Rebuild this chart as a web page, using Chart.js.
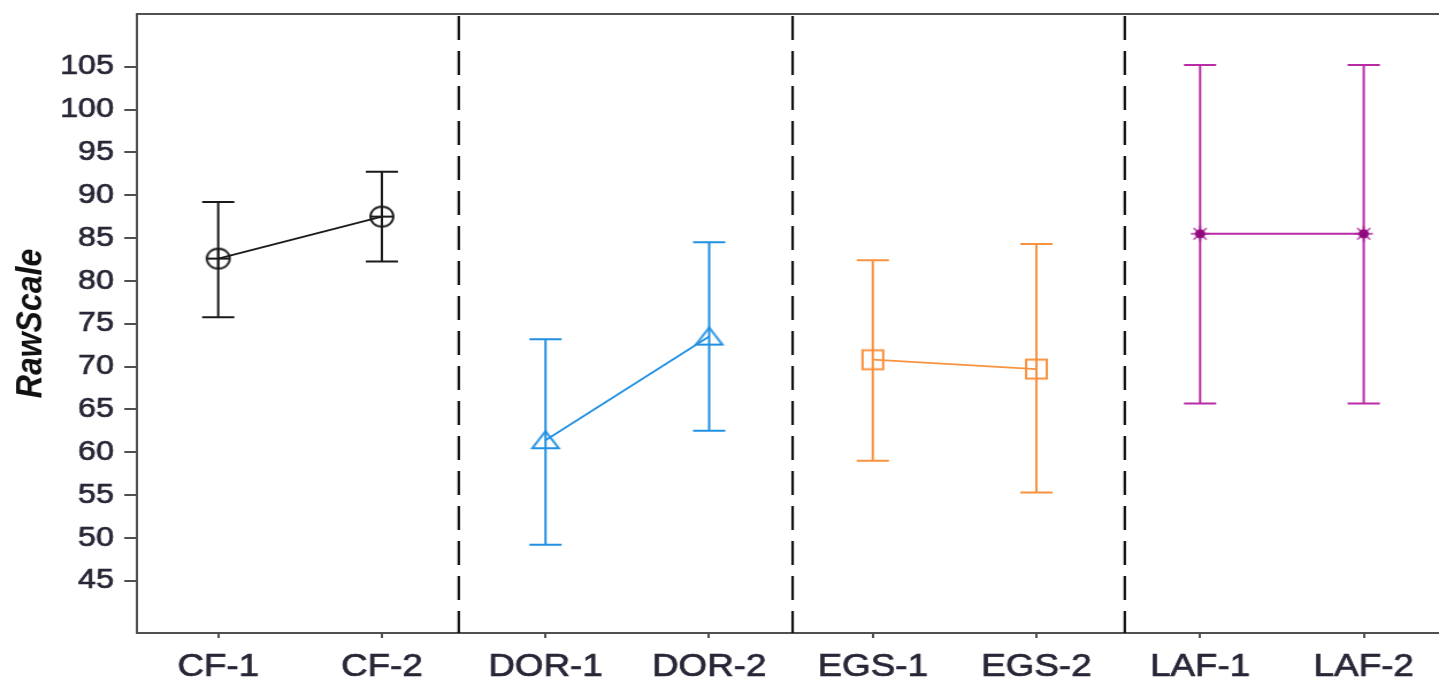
<!DOCTYPE html>
<html>
<head>
<meta charset="utf-8">
<title>RawScale</title>
<script src="https://cdn.jsdelivr.net/npm/chart.js@4.4.1/dist/chart.umd.min.js"></script>
<style>
  html, body { margin: 0; padding: 0; background: #fff; overflow: hidden; }
  /* the reference is stretched sideways, so the canvas buffer is narrower than its box */
  #chart { display: block; width: 1439px; height: 681px; }
</style>
</head>
<body>
<canvas id="chart" width="1251" height="681" style="width:1439px;height:681px;"></canvas>
<script>
// --- data ---
const categories = ['CF-1', 'CF-2', 'DOR-1', 'DOR-2', 'EGS-1', 'EGS-2', 'LAF-1', 'LAF-2'];
const groups = ['CF', 'DOR', 'EGS', 'LAF'];
const means = [82.6, 87.5, 61.4, 73.5, 70.8, 69.7, 85.5, 85.5];
const upper = [89.2, 92.75, 73.2, 84.5, 82.4, 84.3, 105.2, 105.2];
const lower = [75.75, 82.25, 49.2, 62.5, 59.0, 55.3, 65.7, 65.7];
const yTicks = [45, 50, 55, 60, 65, 70, 75, 80, 85, 90, 95, 100, 105];
const dividers = [1.47, 3.51, 5.54];

// --- styles ---
const groupColors = ['#1a1a1a', '#2190e2', '#f7923f', '#b92aa6'];
const textColor = '#262636';
const axisColor = '#505050';

// kleine canvases als marker
function makeMarker(kind, color) {
    const c = document.createElement('canvas');
    c.width = 30; c.height = 30;
    const g = c.getContext('2d');
    const m = 15;
    g.strokeStyle = color; g.fillStyle = color; g.lineWidth = 1.8;
    if (kind === 'circlePlus') {
        g.beginPath(); g.arc(m, m, 10, 0, Math.PI * 2); g.stroke();
        g.beginPath(); g.moveTo(m - 10, m); g.lineTo(m + 10, m); g.moveTo(m, m - 10); g.lineTo(m, m + 10); g.stroke();
    } else if (kind === 'triangle') {
        g.lineWidth = 2;
        g.beginPath(); g.moveTo(m - 11.5, m + 8); g.lineTo(m + 11.5, m + 8); g.lineTo(m, m - 9); g.closePath(); g.stroke();
    } else if (kind === 'square') {
        g.lineWidth = 2;
        g.strokeRect(m - 9, m - 9.5, 18, 19);
    } else if (kind === 'star') {
        g.lineWidth = 1.4;
        g.beginPath();
        for (let k = 0; k < 8; k++) {
            const a = k * Math.PI / 4;
            g.moveTo(m, m); g.lineTo(m + Math.cos(a) * 8, m + Math.sin(a) * 8);
        }
        g.stroke();
        g.fillStyle = '#8f0a7c';
        g.beginPath(); g.arc(m, m, 4.5, 0, Math.PI * 2); g.fill();
    }
    return c;
}
const markerKinds = ['circlePlus', 'triangle', 'square', 'star'];

const datasets = groups.map((name, gi) => ({
    label: name,
    data: [0, 1].map(k => ({ x: gi * 2 + k, y: means[gi * 2 + k] })),
    showLine: true,
    borderColor: groupColors[gi],
    backgroundColor: groupColors[gi],
    borderWidth: 1.8,
    pointStyle: makeMarker(markerKinds[gi], groupColors[gi]),
    pointRadius: 10
}));

// --- foutbalken, scheidingslijnen en bovenrand ---
const extras = {
    id: 'extras',
    beforeDatasetsDraw(chart) {
        const { ctx, chartArea, scales: { x, y } } = chart;
        ctx.save();
        // top frame line
        ctx.strokeStyle = axisColor;
        ctx.lineWidth = 2;
        ctx.beginPath();
        ctx.moveTo(chartArea.left, chartArea.top);
        ctx.lineTo(chartArea.right, chartArea.top);
        ctx.stroke();

        // dashed group dividers
        ctx.strokeStyle = '#111';
        ctx.lineWidth = 2.2;
        ctx.setLineDash([24, 11]);
        dividers.forEach(v => {
            const px = x.getPixelForValue(v);
            ctx.beginPath();
            ctx.moveTo(px, chartArea.top + 2);
            ctx.lineTo(px, chartArea.bottom);
            ctx.stroke();
        });
        ctx.setLineDash([]);

        // error bars
        ctx.lineWidth = 2;
        means.forEach((m, i) => {
            const px = x.getPixelForValue(i);
            const top = y.getPixelForValue(upper[i]);
            const bot = y.getPixelForValue(lower[i]);
            ctx.strokeStyle = groupColors[Math.floor(i / 2)];
            ctx.beginPath();
            ctx.moveTo(px, top); ctx.lineTo(px, bot);
            ctx.moveTo(px - 14, top); ctx.lineTo(px + 14, top);
            ctx.moveTo(px - 14, bot); ctx.lineTo(px + 14, bot);
            ctx.stroke();
        });
        ctx.restore();
    }
};

new Chart(document.getElementById('chart'), {
    type: 'scatter',
    data: { datasets },
    plugins: [extras],
    options: {
        responsive: false,
        devicePixelRatio: 1,
        animation: false,
        layout: { autoPadding: false, padding: { top: 14, right: 0, bottom: 0, left: 0 } },
        plugins: { legend: { display: false }, tooltip: { enabled: false } },
        scales: {
            x: {
                type: 'linear',
                min: -0.497,
                max: 7.46,
                afterBuildTicks: s => { s.ticks = categories.map((c, i) => ({ value: i })); },
                afterFit: s => { s.height = 48; s.paddingLeft = 0; s.paddingRight = 0; },
                ticks: {
                    callback: v => categories[v],
                    autoSkip: false,
                    maxRotation: 0,
                    color: textColor,
                    textStrokeColor: textColor,
                    textStrokeWidth: 0.7,
                    font: { family: 'Liberation Sans, Arial, sans-serif', size: 32 },
                    padding: 10
                },
                grid: { drawOnChartArea: false, drawTicks: true, tickLength: 5, color: axisColor, lineWidth: 2 },
                border: { display: true, color: axisColor, width: 2 }
            },
            y: {
                min: 38.9,
                max: 111.15,
                afterBuildTicks: s => { s.ticks = yTicks.map(v => ({ value: v })); },
                afterFit: s => { s.width = 119; s.paddingTop = 0; s.paddingBottom = 0; },
                ticks: {
                    color: textColor,
                    textStrokeColor: textColor,
                    textStrokeWidth: 0.7,
                    font: { family: 'Liberation Sans, Arial, sans-serif', size: 28 },
                    padding: 9
                },
                grid: { drawOnChartArea: false, drawTicks: true, tickLength: 11, color: axisColor, lineWidth: 2 },
                border: { display: true, color: axisColor, width: 2 },
                title: {
                    display: true,
                    text: 'RawScale',
                    color: '#111',
                    font: { family: 'Liberation Sans, Arial, sans-serif', size: 32, weight: 'bold', style: 'italic' },
                    padding: { top: 8, bottom: 0 }
                }
            }
        }
    }
});
</script>
</body>
</html>
